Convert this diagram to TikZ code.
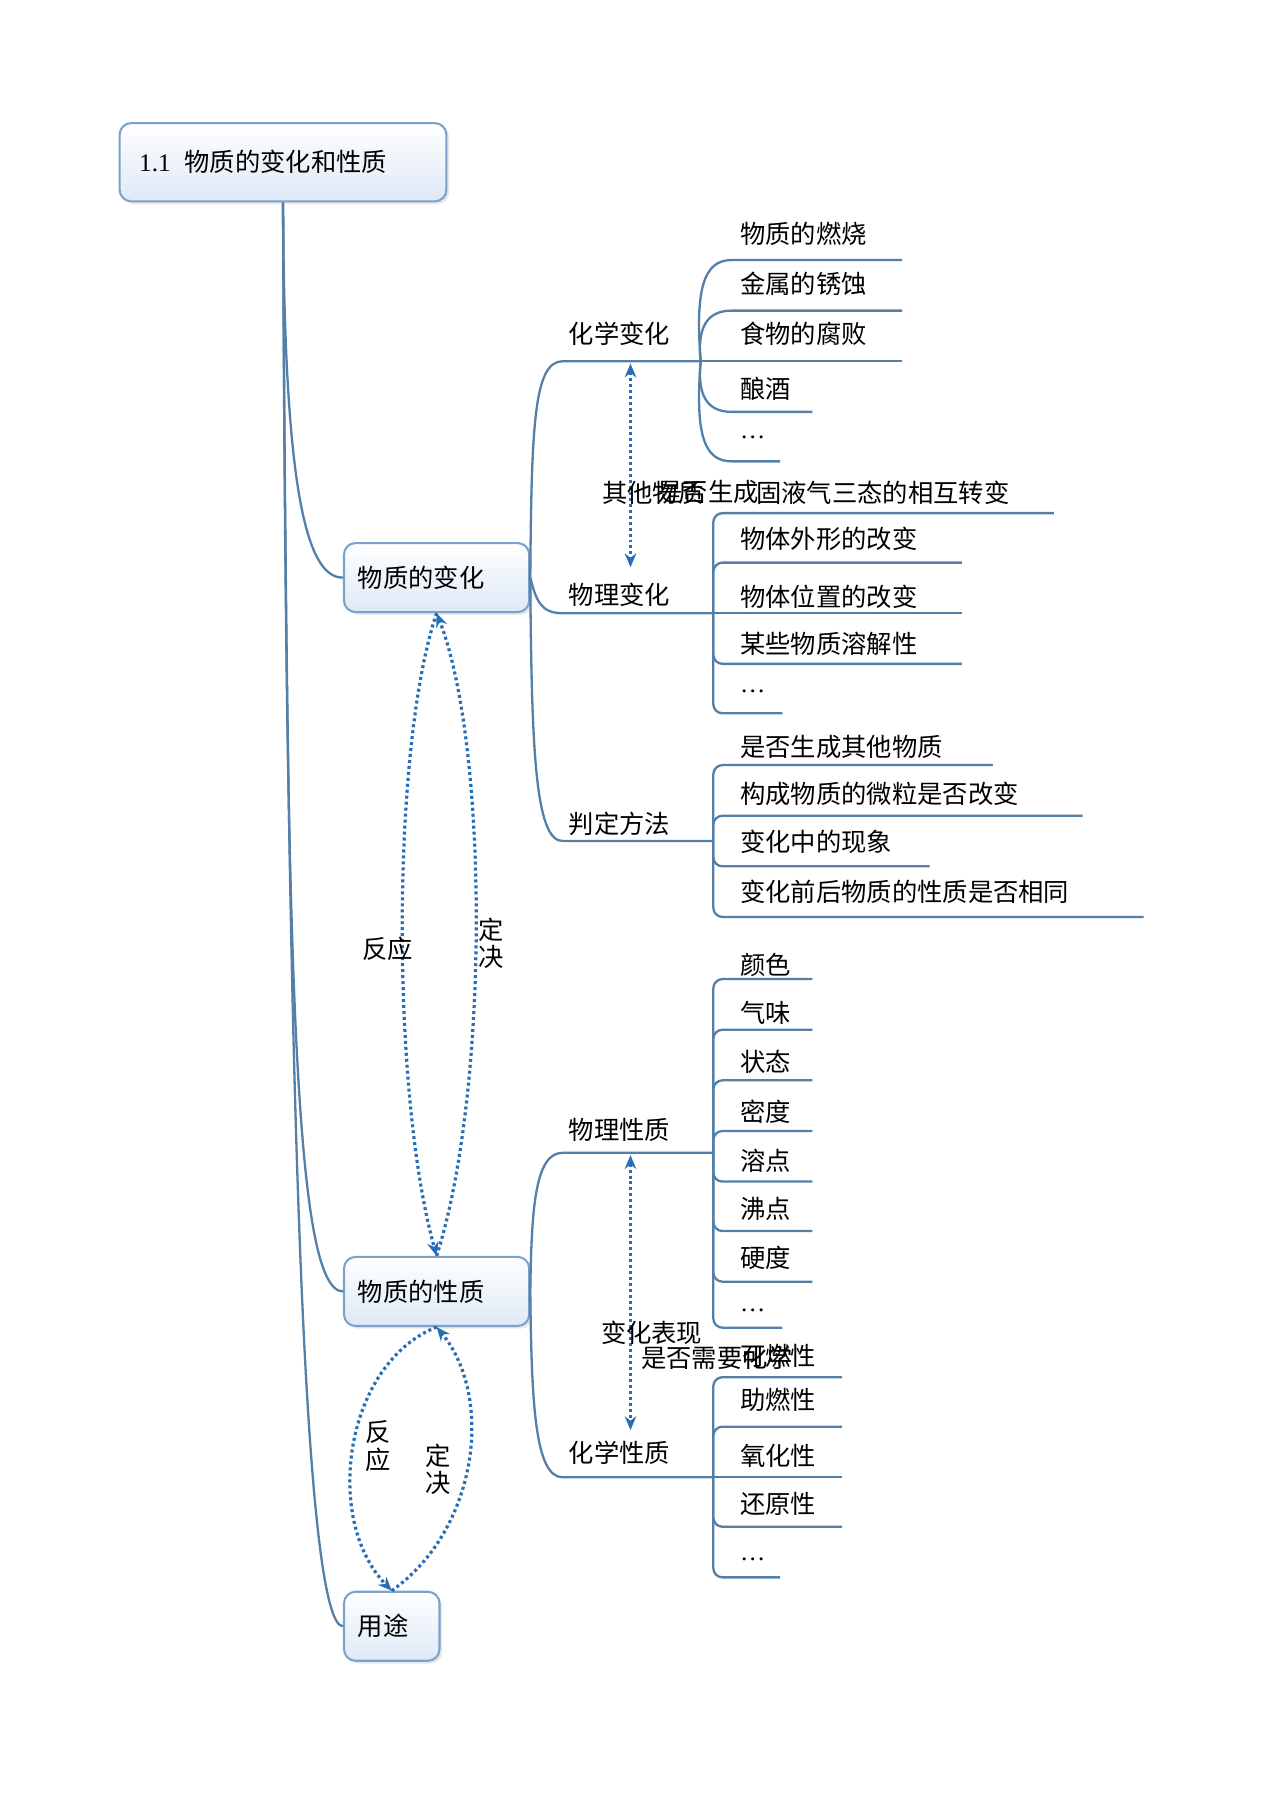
\documentclass[tikz,border=0pt]{standalone}
\usepackage{fontspec}
\setmainfont{Liberation Serif}
\newfontfamily\cjk{Noto Sans CJK SC}
\usetikzlibrary{arrows.meta,shadows}
\definecolor{treeblue}{RGB}{84,128,168}
\definecolor{relblue}{RGB}{38,110,182}
\definecolor{boxline}{RGB}{122,162,202}
\definecolor{boxfill}{RGB}{222,233,246}
\tikzset{
 treeline/.style={draw=treeblue, line width=1pt},
 relline/.style={draw=relblue, line width=1.4pt, dash pattern=on 1.3pt off 1.3pt},
 rtip/.style={-{Stealth[length=6pt,width=5pt]}},
 topicbox/.style={draw=boxline, line width=0.9pt, rounded corners=5pt, top color=white, bottom color=boxfill,
   drop shadow={opacity=0.18, shadow xshift=1.2pt, shadow yshift=-1.2pt}, align=left,
   font=\cjk\fontsize{11}{13}\selectfont, inner ysep=0pt},
 lbl/.style={font=\cjk\fontsize{11}{12}\selectfont, inner sep=0pt, anchor=west},
 ellip/.style={font=\rmfamily\fontsize{11}{12}\selectfont, inner sep=0pt, anchor=west},
 vlbl/.style={font=\cjk\fontsize{11}{12}\selectfont, inner sep=0pt, align=center},
}
\begin{document}
\begin{tikzpicture}[x=0.5pt,y=-0.5pt]
\path[use as bounding box] (0,0) rectangle (1110,1568);

% ---------- topic boxes ----------
\node[topicbox, minimum width=142pt, minimum height=34pt, text width=125pt, inner xsep=8.5pt] (root) at (246,141)
  {{\rmfamily 1.1}\hspace{6pt}物质的变化和性质};
\node[topicbox, minimum width=80.5pt, minimum height=30pt, text width=68.5pt, inner xsep=6pt] (chg) at (379.5,502) {物质的变化};
\node[topicbox, minimum width=80.5pt, minimum height=30pt, text width=68.5pt, inner xsep=6pt] (prop) at (379.5,1122.5) {物质的性质};
\node[topicbox, minimum width=41.5pt, minimum height=30pt, text width=29.5pt, inner xsep=6pt] (use) at (340.5,1413.5) {用途};

% ---------- main branches ----------
\draw[treeline] (root.south) .. controls (247,400) and (262,503) .. (chg.west);
\draw[treeline] (root.south) .. controls (249,850) and (256,1122) .. (prop.west);
\draw[treeline] (root.south) .. controls (250,1000) and (266,1413) .. (use.west);

% ---------- 化学变化 ----------
\coordinate (jc) at (609,314);
\node[lbl] (chem) at (494,290) {化学变化};
\draw[treeline] (chg.east) .. controls (462,370) and (464,314) .. (489,314) -- (jc);
\node[lbl] (c1) at (643,203) {物质的燃烧};
\node[lbl] (c2) at (643,247) {金属的锈蚀};
\node[lbl] (c3) at (643,290) {食物的腐败};
\node[lbl] (c4) at (643,338) {酿酒};
\node[ellip] (c5) at (643,380) {…};
\draw[treeline] (jc) .. controls (604,250) and (612,226) .. (636,226) -- (784,226);
\draw[treeline] (jc) .. controls (606,285) and (614,270) .. (636,270) -- (784,270);
\draw[treeline] (jc) -- (784,314);
\draw[treeline] (jc) .. controls (606,343) and (614,358) .. (636,358) -- (706,358);
\draw[treeline] (jc) .. controls (604,378) and (612,401) .. (636,401) -- (678,401);

% ---------- 物理变化 ----------
\coordinate (jp) at (620,533);
\node[lbl] (phys) at (494,517) {物理变化};
\draw[treeline] (chg.east) .. controls (466,522) and (470,533) .. (489,533) -- (jp);
\node[lbl] (p1) at (657,428) {固液气三态的相互转变};
\node[lbl] (p2) at (643,468) {物体外形的改变};
\node[lbl] (p3) at (643,519) {物体位置的改变};
\node[lbl] (p4) at (643,560) {某些物质溶解性};
\node[ellip] (p5) at (643,601) {…};
\draw[treeline, rounded corners=4pt] (jp) -- (620,446) -- (916,446);
\draw[treeline, rounded corners=4pt] (jp) -- (620,489) -- (836,489);
\draw[treeline] (jp) -- (836,533);
\draw[treeline, rounded corners=4pt] (jp) -- (620,577) -- (836,577);
\draw[treeline, rounded corners=4pt] (jp) -- (620,620) -- (680,620);

% ---------- 判定方法 ----------
\coordinate (jj) at (620,731);
\node[lbl] (judge) at (494,716) {判定方法};
\draw[treeline] (chg.east) .. controls (462,650) and (465,731) .. (489,731) -- (jj);
\node[lbl] (j1) at (643,649) {是否生成其他物质};
\node[lbl] (j2) at (643,690) {构成物质的微粒是否改变};
\node[lbl] (j3) at (643,732) {变化中的现象};
\node[lbl] (j4) at (643,775) {变化前后物质的性质是否相同};
\draw[treeline, rounded corners=4pt] (jj) -- (620,665) -- (863,665);
\draw[treeline, rounded corners=4pt] (jj) -- (620,709) -- (941,709);
\draw[treeline, rounded corners=4pt] (jj) -- (620,753) -- (808,753);
\draw[treeline, rounded corners=4pt] (jj) -- (620,797) -- (994,797);

% ---------- 物理性质 ----------
\coordinate (jq) at (620,1002);
\node[lbl] (pprop) at (494,982) {物理性质};
\draw[treeline] (prop.east) .. controls (462,1050) and (465,1002) .. (489,1002) -- (jq);
\node[lbl] (q1) at (643,839) {颜色};
\node[lbl] (q2) at (643,880) {气味};
\node[lbl] (q3) at (643,923) {状态};
\node[lbl] (q4) at (643,966) {密度};
\node[lbl] (q5) at (643,1009) {溶点};
\node[lbl] (q6) at (643,1051) {沸点};
\node[lbl] (q7) at (643,1093) {硬度};
\node[ellip] (q8) at (643,1139) {…};
\draw[treeline, rounded corners=4pt] (jq) -- (620,851) -- (706,851);
\draw[treeline, rounded corners=4pt] (jq) -- (620,895) -- (706,895);
\draw[treeline, rounded corners=4pt] (jq) -- (620,939) -- (706,939);
\draw[treeline, rounded corners=4pt] (jq) -- (620,983) -- (706,983);
\draw[treeline, rounded corners=4pt] (jq) -- (620,1027) -- (706,1027);
\draw[treeline, rounded corners=4pt] (jq) -- (620,1070) -- (706,1070);
\draw[treeline, rounded corners=4pt] (jq) -- (620,1114) -- (706,1114);
\draw[treeline, rounded corners=4pt] (jq) -- (620,1154) -- (680,1154);

% ---------- 化学性质 ----------
\coordinate (jk) at (620,1284);
\node[lbl] (cprop) at (494,1263) {化学性质};
\draw[treeline] (prop.east) .. controls (462,1220) and (465,1284) .. (489,1284) -- (jk);
\node[lbl] (k1) at (643,1178) {可燃性};
\node[lbl] (k2) at (643,1217) {助燃性};
\node[lbl] (k3) at (643,1265) {氧化性};
\node[lbl] (k4) at (643,1307) {还原性};
\node[ellip] (k5) at (643,1355) {…};
\draw[treeline, rounded corners=4pt] (jk) -- (620,1197) -- (732,1197);
\draw[treeline, rounded corners=4pt] (jk) -- (620,1240) -- (732,1240);
\draw[treeline] (jk) -- (732,1284);
\draw[treeline, rounded corners=4pt] (jk) -- (620,1327) -- (732,1327);
\draw[treeline, rounded corners=4pt] (jk) -- (620,1371) -- (678,1371);

% ---------- relationships ----------
\coordinate (r1a) at (548,316);
\coordinate (r1b) at (548,493);
\draw[relline, {Stealth[length=6pt,width=5pt]}-{Stealth[length=6pt,width=5pt]}] (r1a) -- (r1b);
\node[lbl] (r1l1) at (523,428) {其他物质};
\node[lbl] (r1l2) at (571,428) {是否生成};

\coordinate (r2a) at (548,1004);
\coordinate (r2b) at (548,1243);
\draw[relline, {Stealth[length=6pt,width=5pt]}-{Stealth[length=6pt,width=5pt]}] (r2a) -- (r2b);
\node[lbl] (r2l1) at (522,1158) {变化表现};
\node[lbl] (r2l2) at (557,1180) {是否需要化学};

% lens between 物质的变化 and 物质的性质
\draw[relline, rtip] (prop.north) .. controls (425,950) and (425,650) .. (chg.south);
\draw[relline, rtip] (chg.south) .. controls (340,650) and (340,950) .. (prop.north);
\node[lbl, anchor=center] (lfy) at (337,825) {反应};
\node[vlbl] (ljd) at (427,820) {定\\决};

% lens between 物质的性质 and 用途
\draw[relline, rtip] (use.north) .. controls (415,1330) and (430,1215) .. (prop.south);
\draw[relline, rtip] (prop.south) .. controls (300,1185) and (280,1320) .. (use.north);
\node[vlbl] (lfy2) at (329,1257) {反\\应};
\node[vlbl] (ljd2) at (381,1277) {定\\决};
\end{tikzpicture}
\end{document}
